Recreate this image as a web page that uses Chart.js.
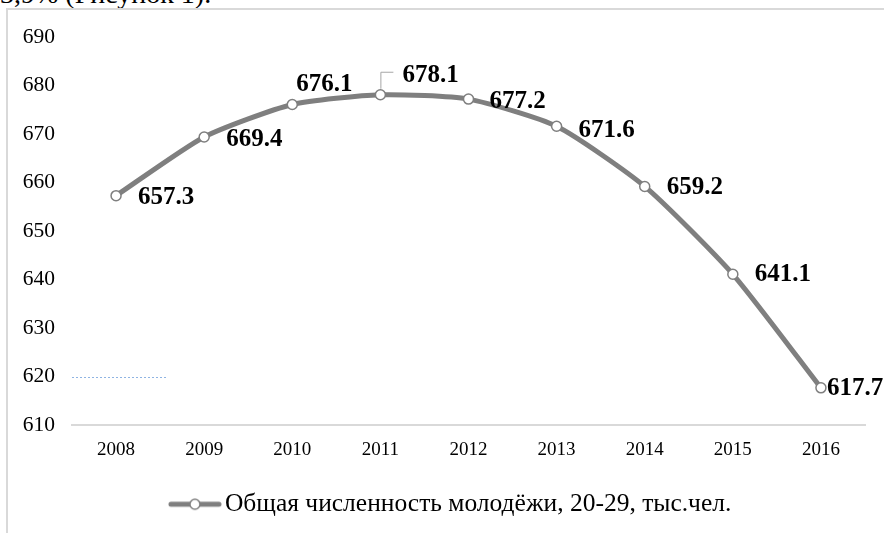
<!DOCTYPE html>
<html><head><meta charset="utf-8">
<script src="https://cdn.jsdelivr.net/npm/chart.js@4"></script>
<style>
html,body{margin:0;padding:0;background:#fff;overflow:hidden;}
#wrap{position:relative;width:884px;height:533px;overflow:hidden;background:#fff;}
#cap{position:absolute;left:0;top:-20px;font-family:'Liberation Serif';font-size:28px;line-height:28px;color:#000;white-space:nowrap;}
#frame{position:absolute;left:6px;top:8px;right:-4px;bottom:-4px;border-left:2px solid #d9d9d9;border-top:2px solid #d9d9d9;}
canvas{position:absolute;left:0;top:0;}
</style></head>
<body><div id="wrap"><div id="cap">3,9% (Рисунок 1).</div><div id="frame"></div><canvas id="c" width="884" height="533"></canvas></div>
<script>
const years = ['2008','2009','2010','2011','2012','2013','2014','2015','2016'];
const values = [657.3, 669.4, 676.1, 678.1, 677.2, 671.6, 659.2, 641.1, 617.7];
const seriesName = 'Общая численность молодёжи, 20-29, тыс.чел.';
const yMin = 610, yMax = 690, yStep = 10;

const lineColor = '#7f7f7f';
const serif = "'Liberation Serif', 'Times New Roman', serif";
// label placement (style): [dx, dy]
const labelOffsets = [[22,2],[22,3],[4,-20],[22,-19],[21,2],[22,4],[22,1],[22,0],[6,1]];
const legendShift = 22;

const legImg = document.createElement('canvas');
legImg.width = 54; legImg.height = 14;
(function(){
  const g = legImg.getContext('2d');
  g.strokeStyle = lineColor; g.lineWidth = 5; g.lineCap = 'round';
  g.beginPath(); g.moveTo(3,7); g.lineTo(51,7); g.stroke();
  g.beginPath(); g.arc(27,7,5,0,Math.PI*2); g.fillStyle='#fff'; g.fill();
  g.lineWidth = 1.5; g.stroke();
})();

const labelPlugin = {
  id: 'valueLabels',
  afterLayout(chart){
    if (chart.legend) { chart.legend.left += legendShift; chart.legend.right += legendShift; }
  },
  beforeDatasetsDraw(chart){
    const ctx = chart.ctx, ys = chart.scales.y, ca = chart.chartArea;
    const y = Math.round(ys.getPixelForValue(620)) + 0.5;
    ctx.save();
    ctx.strokeStyle = '#8fb4e3'; ctx.lineWidth = 1; ctx.setLineDash([2,2]);
    ctx.beginPath(); ctx.moveTo(ca.left, y); ctx.lineTo(ca.left + 95, y); ctx.stroke();
    ctx.restore();
  },
  afterDatasetsDraw(chart){
    const ctx = chart.ctx;
    const meta = chart.getDatasetMeta(0);
    ctx.save();
    ctx.font = "bold 25px " + serif;
    ctx.fillStyle = '#000';
    ctx.textAlign = 'left';
    ctx.textBaseline = 'middle';
    meta.data.forEach((pt, i) => {
      const [dx, dy] = labelOffsets[i];
      ctx.fillText(values[i].toFixed(1), pt.x + dx, pt.y + dy);
      if (i === 3) {
        ctx.strokeStyle = '#a6a6a6'; ctx.lineWidth = 1;
        ctx.beginPath();
        ctx.moveTo(pt.x + 0.5, pt.y - 6);
        ctx.lineTo(pt.x + 0.5, pt.y - 22.5);
        ctx.lineTo(pt.x + 13, pt.y - 22.5);
        ctx.stroke();
      }
    });
    ctx.restore();
  }
};

new Chart(document.getElementById('c'), {
  type: 'line',
  data: {
    labels: years,
    datasets: [{
      label: seriesName,
      data: values,
      borderColor: lineColor,
      borderWidth: 5,
      tension: 0.2,
      fill: false,
      pointRadius: 5,
      pointBackgroundColor: '#fff',
      pointBorderColor: lineColor,
      pointBorderWidth: 1.5
    }]
  },
  options: {
    responsive: false,
    animation: false,
    devicePixelRatio: 1,
    layout: { padding: { left: 0, right: 19, top: 37, bottom: 6 } },
    plugins: {
      tooltip: { enabled: false },
      legend: {
        position: 'bottom',
        labels: {
          usePointStyle: true,
          pointStyleWidth: 34.5,
          color: '#000',
          font: { family: serif, size: 25.5 },
          padding: 10,
          generateLabels: () => [{ text: seriesName, pointStyle: legImg, fillStyle: '#fff', strokeStyle: lineColor, lineWidth: 0, hidden: false, datasetIndex: 0, fontColor: '#000' }]
        }
      }
    },
    scales: {
      x: {
        offset: true,
        grid: { display: false, drawTicks: false },
        border: { display: true, color: '#d9d9d9', width: 2 },
        ticks: { color: '#000', font: { family: serif, size: 19 }, padding: 13 },
        afterFit(s) { s.height += 7.5; }
      },
      y: {
        min: yMin, max: yMax,
        grid: { display: false, drawTicks: false },
        border: { display: false },
        ticks: { stepSize: yStep, color: '#000', font: { family: serif, size: 21.5 }, padding: 17 },
        afterFit(s) { s.width = 72; }
      }
    }
  },
  plugins: [labelPlugin]
});
</script>
</body></html>
